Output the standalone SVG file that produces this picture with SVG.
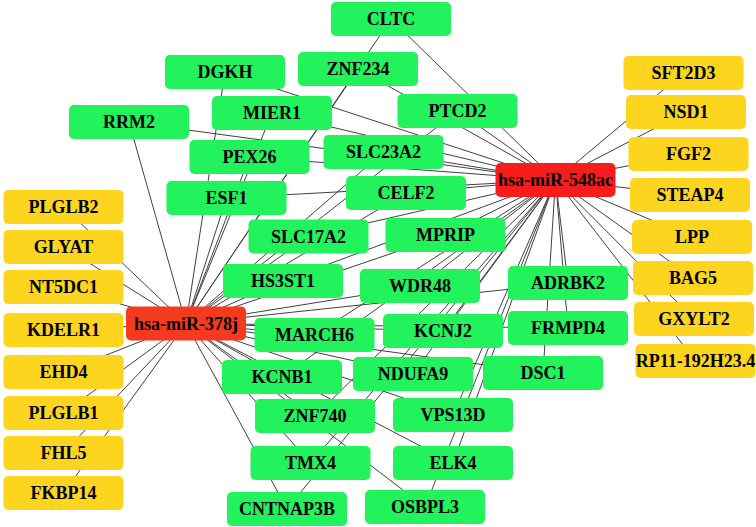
<svg xmlns="http://www.w3.org/2000/svg" width="756" height="527" viewBox="0 0 756 527">
<style>
.e line{stroke:#404040;stroke-width:1}
.n rect{rx:5;ry:5;width:120px;height:34px}
.g rect{fill:#22F25C}
.y rect{fill:#FDD41E}
.r rect{fill:#F81C1C}
.r2 rect{fill:#F63A1E}
text{font-family:"Liberation Serif","Times New Roman",serif;font-weight:bold;font-size:18px;fill:#000;text-anchor:middle}
</style>
<rect width="756" height="527" fill="#fff"/>
<g id="edges" class="e">
<line x1="391" y1="19" x2="555.5" y2="180"/>
<line x1="225" y1="72" x2="555.5" y2="180"/>
<line x1="358" y1="69" x2="555.5" y2="180"/>
<line x1="272" y1="113" x2="555.5" y2="180"/>
<line x1="129" y1="122" x2="555.5" y2="180"/>
<line x1="457.5" y1="111" x2="555.5" y2="180"/>
<line x1="249.5" y1="157" x2="555.5" y2="180"/>
<line x1="383.5" y1="152" x2="555.5" y2="180"/>
<line x1="226.5" y1="198" x2="555.5" y2="180"/>
<line x1="406" y1="193" x2="555.5" y2="180"/>
<line x1="308.5" y1="236.5" x2="555.5" y2="180"/>
<line x1="445.5" y1="235" x2="555.5" y2="180"/>
<line x1="283" y1="281" x2="555.5" y2="180"/>
<line x1="420" y1="286" x2="555.5" y2="180"/>
<line x1="568" y1="283" x2="555.5" y2="180"/>
<line x1="314.5" y1="335" x2="555.5" y2="180"/>
<line x1="443" y1="331" x2="555.5" y2="180"/>
<line x1="568" y1="328" x2="555.5" y2="180"/>
<line x1="413" y1="374" x2="555.5" y2="180"/>
<line x1="543" y1="373" x2="555.5" y2="180"/>
<line x1="282" y1="377" x2="555.5" y2="180"/>
<line x1="315" y1="416" x2="555.5" y2="180"/>
<line x1="453" y1="415" x2="555.5" y2="180"/>
<line x1="310.5" y1="463" x2="555.5" y2="180"/>
<line x1="453" y1="463" x2="555.5" y2="180"/>
<line x1="287" y1="509" x2="555.5" y2="180"/>
<line x1="425" y1="507" x2="555.5" y2="180"/>
<line x1="391" y1="19" x2="186" y2="323.5"/>
<line x1="225" y1="72" x2="186" y2="323.5"/>
<line x1="358" y1="69" x2="186" y2="323.5"/>
<line x1="272" y1="113" x2="186" y2="323.5"/>
<line x1="129" y1="122" x2="186" y2="323.5"/>
<line x1="457.5" y1="111" x2="186" y2="323.5"/>
<line x1="249.5" y1="157" x2="186" y2="323.5"/>
<line x1="383.5" y1="152" x2="186" y2="323.5"/>
<line x1="226.5" y1="198" x2="186" y2="323.5"/>
<line x1="406" y1="193" x2="186" y2="323.5"/>
<line x1="308.5" y1="236.5" x2="186" y2="323.5"/>
<line x1="445.5" y1="235" x2="186" y2="323.5"/>
<line x1="283" y1="281" x2="186" y2="323.5"/>
<line x1="420" y1="286" x2="186" y2="323.5"/>
<line x1="568" y1="283" x2="186" y2="323.5"/>
<line x1="314.5" y1="335" x2="186" y2="323.5"/>
<line x1="443" y1="331" x2="186" y2="323.5"/>
<line x1="568" y1="328" x2="186" y2="323.5"/>
<line x1="413" y1="374" x2="186" y2="323.5"/>
<line x1="543" y1="373" x2="186" y2="323.5"/>
<line x1="282" y1="377" x2="186" y2="323.5"/>
<line x1="315" y1="416" x2="186" y2="323.5"/>
<line x1="453" y1="415" x2="186" y2="323.5"/>
<line x1="310.5" y1="463" x2="186" y2="323.5"/>
<line x1="453" y1="463" x2="186" y2="323.5"/>
<line x1="287" y1="509" x2="186" y2="323.5"/>
<line x1="425" y1="507" x2="186" y2="323.5"/>
<line x1="63.5" y1="207" x2="186" y2="323.5"/>
<line x1="63.5" y1="247" x2="186" y2="323.5"/>
<line x1="63.5" y1="287" x2="186" y2="323.5"/>
<line x1="63.5" y1="330" x2="186" y2="323.5"/>
<line x1="63.5" y1="372" x2="186" y2="323.5"/>
<line x1="63.5" y1="413" x2="186" y2="323.5"/>
<line x1="63.5" y1="453" x2="186" y2="323.5"/>
<line x1="63.5" y1="493" x2="186" y2="323.5"/>
<line x1="683.5" y1="73" x2="555.5" y2="180"/>
<line x1="686" y1="112" x2="555.5" y2="180"/>
<line x1="688.5" y1="154" x2="555.5" y2="180"/>
<line x1="690" y1="195" x2="555.5" y2="180"/>
<line x1="692" y1="237" x2="555.5" y2="180"/>
<line x1="693" y1="278" x2="555.5" y2="180"/>
<line x1="694" y1="319" x2="555.5" y2="180"/>
<line x1="695.5" y1="361" x2="555.5" y2="180"/>
</g>
<g id="CLTC" class="n g"><rect x="331" y="2"/><text x="391" y="25">CLTC</text></g>
<g id="DGKH" class="n g"><rect x="165" y="55"/><text x="225" y="78">DGKH</text></g>
<g id="ZNF234" class="n g"><rect x="298" y="52"/><text x="358" y="75">ZNF234</text></g>
<g id="MIER1" class="n g"><rect x="212" y="96"/><text x="272" y="119">MIER1</text></g>
<g id="RRM2" class="n g"><rect x="69" y="105"/><text x="129" y="128">RRM2</text></g>
<g id="PTCD2" class="n g"><rect x="397.5" y="94"/><text x="457.5" y="117">PTCD2</text></g>
<g id="PEX26" class="n g"><rect x="189.5" y="140"/><text x="249.5" y="163">PEX26</text></g>
<g id="SLC23A2" class="n g"><rect x="323.5" y="135"/><text x="383.5" y="158">SLC23A2</text></g>
<g id="ESF1" class="n g"><rect x="166.5" y="181"/><text x="226.5" y="204">ESF1</text></g>
<g id="CELF2" class="n g"><rect x="346" y="176"/><text x="406" y="199">CELF2</text></g>
<g id="SLC17A2" class="n g"><rect x="248.5" y="219.5"/><text x="308.5" y="242.5">SLC17A2</text></g>
<g id="MPRIP" class="n g"><rect x="385.5" y="218"/><text x="445.5" y="241">MPRIP</text></g>
<g id="HS3ST1" class="n g"><rect x="223" y="264"/><text x="283" y="287">HS3ST1</text></g>
<g id="WDR48" class="n g"><rect x="360" y="269"/><text x="420" y="292">WDR48</text></g>
<g id="ADRBK2" class="n g"><rect x="508" y="266"/><text x="568" y="289">ADRBK2</text></g>
<g id="MARCH6" class="n g"><rect x="254.5" y="318"/><text x="314.5" y="341">MARCH6</text></g>
<g id="KCNJ2" class="n g"><rect x="383" y="314"/><text x="443" y="337">KCNJ2</text></g>
<g id="FRMPD4" class="n g"><rect x="508" y="311"/><text x="568" y="334">FRMPD4</text></g>
<g id="NDUFA9" class="n g"><rect x="353" y="357"/><text x="413" y="380">NDUFA9</text></g>
<g id="DSC1" class="n g"><rect x="483" y="356"/><text x="543" y="379">DSC1</text></g>
<g id="KCNB1" class="n g"><rect x="222" y="360"/><text x="282" y="383">KCNB1</text></g>
<g id="ZNF740" class="n g"><rect x="255" y="399"/><text x="315" y="422">ZNF740</text></g>
<g id="VPS13D" class="n g"><rect x="393" y="398"/><text x="453" y="421">VPS13D</text></g>
<g id="TMX4" class="n g"><rect x="250.5" y="446"/><text x="310.5" y="469">TMX4</text></g>
<g id="ELK4" class="n g"><rect x="393" y="446"/><text x="453" y="469">ELK4</text></g>
<g id="CNTNAP3B" class="n g"><rect x="227" y="492"/><text x="287" y="515">CNTNAP3B</text></g>
<g id="OSBPL3" class="n g"><rect x="365" y="490"/><text x="425" y="513">OSBPL3</text></g>
<g id="PLGLB2" class="n y"><rect x="3.5" y="190"/><text x="63.5" y="213">PLGLB2</text></g>
<g id="GLYAT" class="n y"><rect x="3.5" y="230"/><text x="63.5" y="253">GLYAT</text></g>
<g id="NT5DC1" class="n y"><rect x="3.5" y="270"/><text x="63.5" y="293">NT5DC1</text></g>
<g id="KDELR1" class="n y"><rect x="3.5" y="313"/><text x="63.5" y="336">KDELR1</text></g>
<g id="EHD4" class="n y"><rect x="3.5" y="355"/><text x="63.5" y="378">EHD4</text></g>
<g id="PLGLB1" class="n y"><rect x="3.5" y="396"/><text x="63.5" y="419">PLGLB1</text></g>
<g id="FHL5" class="n y"><rect x="3.5" y="436"/><text x="63.5" y="459">FHL5</text></g>
<g id="FKBP14" class="n y"><rect x="3.5" y="476"/><text x="63.5" y="499">FKBP14</text></g>
<g id="SFT2D3" class="n y"><rect x="623.5" y="56"/><text x="683.5" y="79">SFT2D3</text></g>
<g id="NSD1" class="n y"><rect x="626" y="95"/><text x="686" y="118">NSD1</text></g>
<g id="FGF2" class="n y"><rect x="628.5" y="137"/><text x="688.5" y="160">FGF2</text></g>
<g id="STEAP4" class="n y"><rect x="630" y="178"/><text x="690" y="201">STEAP4</text></g>
<g id="LPP" class="n y"><rect x="632" y="220"/><text x="692" y="243">LPP</text></g>
<g id="BAG5" class="n y"><rect x="633" y="261"/><text x="693" y="284">BAG5</text></g>
<g id="GXYLT2" class="n y"><rect x="634" y="302"/><text x="694" y="325">GXYLT2</text></g>
<g id="RP11-192H23.4" class="n y"><rect x="635.5" y="344"/><text x="695.5" y="367">RP11-192H23.4</text></g>
<g id="hsa-miR-548ac" class="n r"><rect x="495.5" y="163"/><text x="555.5" y="186">hsa-miR-548ac</text></g>
<g id="hsa-miR-378j" class="n r2"><rect x="126" y="306.5"/><text x="186" y="329.5">hsa-miR-378j</text></g>
</svg>
